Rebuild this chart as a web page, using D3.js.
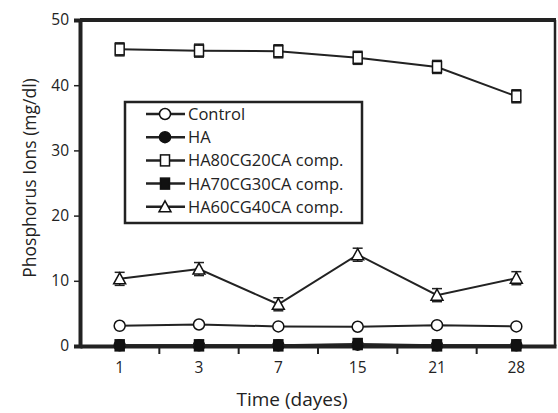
<!DOCTYPE html>
<html>
<head>
<meta charset="utf-8">
<script src="https://cdn.jsdelivr.net/npm/d3@7"></script>
<style>
  body { margin: 0; background: #fff; }
  svg text { font-family: "Open Sans", "Noto Sans", sans-serif; fill: #222; }
  .tick text { font-size: 15.5px; }
  .legend-text { font-size: 16.5px; }
</style>
</head>
<body>
<div id="chart"></div>
<script>
// days on the x axis
const days = ["1", "3", "7", "15", "21", "28"];
const yTicks = [0, 10, 20, 30, 40, 50];

// phosphorus ions (mg/dl) per group
const control = [3.1, 3.3, 3.0, 2.95, 3.2, 3.0];
const ha = [0.1, 0.1, 0.1, 0.2, 0.1, 0.1];
const ha80 = [45.5, 45.3, 45.2, 44.2, 42.8, 38.3];
const ha80Err = [1.0, 1.0, 1.0, 1.0, 1.0, 1.0];
const ha70 = [0.1, 0.1, 0.1, 0.3, 0.1, 0.1];
const ha60 = [10.3, 11.8, 6.4, 14.0, 7.8, 10.4];
const ha60Err = [1.0, 1.0, 1.0, 1.0, 1.0, 1.0];

const seriesNames = ["Control", "HA", "HA80CG20CA comp.", "HA70CG30CA comp.", "HA60CG40CA comp."];
const seriesValues = [control, ha, ha80, ha70, ha60];
const seriesErr = [null, null, ha80Err, null, ha60Err];
const seriesShape = ["circle", "circle", "square", "square", "triangle"];
const seriesFill = ["#fff", "#111", "#fff", "#111", "#fff"];

const width = 558, height = 413;
const margin = { top: 20, right: 2, bottom: 67, left: 80 };

const svg = d3.select("#chart").append("svg")
  .attr("width", width)
  .attr("height", height);

const x = d3.scaleBand()
  .domain(days)
  .range([margin.left, width - margin.right]);

const y = d3.scaleLinear()
  .domain([0, 50])
  .range([height - margin.bottom, margin.top]);

// top and right frame
svg.append("line")
  .attr("x1", margin.left).attr("x2", width - margin.right)
  .attr("y1", y(50)).attr("y2", y(50))
  .attr("stroke", "#222").attr("stroke-width", 4);
svg.append("line")
  .attr("x1", width - margin.right - 1).attr("x2", width - margin.right - 1)
  .attr("y1", y(50)).attr("y2", y(0))
  .attr("stroke", "#222").attr("stroke-width", 2.5);

// y axis
const yAxis = svg.append("g")
  .attr("transform", `translate(${margin.left},0)`)
  .call(d3.axisLeft(y).tickValues(yTicks).tickSize(6).tickPadding(5));
yAxis.select(".domain").attr("stroke", "#222").attr("stroke-width", 4);
yAxis.selectAll(".tick line").attr("stroke", "#222").attr("stroke-width", 1.5);

// x axis: ticks between the categories
const xAxis = svg.append("g")
  .attr("transform", `translate(0,${y(0)})`)
  .call(d3.axisBottom(x).tickSize(0).tickPadding(16));
xAxis.select(".domain").attr("stroke", "#222").attr("stroke-width", 4);
xAxis.selectAll(".sep")
  .data(days.slice(1))
  .enter()
  .append("line")
  .attr("class", "sep")
  .attr("x1", d => x(d)).attr("x2", d => x(d))
  .attr("y1", 0).attr("y2", 8)
  .attr("stroke", "#222").attr("stroke-width", 2);

// axis titles
svg.append("text")
  .attr("text-anchor", "middle")
  .style("font-size", "19px")
  .attr("x", 292)
  .attr("y", 406)
  .text("Time (dayes)");

svg.append("text")
  .attr("text-anchor", "middle")
  .style("font-size", "17.5px")
  .attr("transform", `translate(36,178) rotate(-90)`)
  .text("Phosphorus Ions  (mg/dl)");

function drawMarker(g, shape, fill) {
  if (shape === "circle") {
    g.append("circle").attr("r", 5.5);
  } else if (shape === "square") {
    g.append("rect").attr("x", -4.5).attr("y", -5.5).attr("width", 9).attr("height", 11);
  } else {
    g.append("path").attr("d", "M0,-6 L6,5 L-6,5 Z");
  }
  g.selectAll("*").attr("fill", fill).attr("stroke", "#111").attr("stroke-width", 1.5);
}

const line = d3.line()
  .x((d, i) => x(days[i]) + x.bandwidth() / 2)
  .y(d => y(d));

seriesValues.forEach((vals, s) => {
  const g = svg.append("g");
  g.append("path")
    .datum(vals)
    .attr("d", line)
    .attr("fill", "none")
    .attr("stroke", "#222")
    .attr("stroke-width", 2);

  if (seriesErr[s]) {
    const err = seriesErr[s];
    vals.forEach((v, i) => {
      const cx = x(days[i]) + x.bandwidth() / 2;
      const eg = g.append("g").attr("stroke", "#222").attr("stroke-width", 1.5);
      eg.append("line").attr("x1", cx).attr("x2", cx).attr("y1", y(v - err[i])).attr("y2", y(v + err[i]));
      eg.append("line").attr("x1", cx - 5).attr("x2", cx + 5).attr("y1", y(v - err[i])).attr("y2", y(v - err[i]));
      eg.append("line").attr("x1", cx - 5).attr("x2", cx + 5).attr("y1", y(v + err[i])).attr("y2", y(v + err[i]));
    });
  }

  vals.forEach((v, i) => {
    const m = g.append("g")
      .attr("transform", `translate(${x(days[i]) + x.bandwidth() / 2},${y(v)})`);
    drawMarker(m, seriesShape[s], seriesFill[s]);
  });
});

// legend
const legend = svg.append("g");
legend.append("rect")
  .attr("x", 125).attr("y", 102)
  .attr("width", 237).attr("height", 121)
  .attr("fill", "#fff")
  .attr("stroke", "#222")
  .attr("stroke-width", 2.5);

seriesNames.forEach((name, s) => {
  const ly = 114 + s * 23.2;
  const row = legend.append("g");
  row.append("line")
    .attr("x1", 146).attr("x2", 185)
    .attr("y1", ly).attr("y2", ly)
    .attr("stroke", "#222").attr("stroke-width", 2.5);
  const m = row.append("g").attr("transform", `translate(165,${ly})`);
  drawMarker(m, seriesShape[s], seriesFill[s]);
  row.append("text")
    .attr("class", "legend-text")
    .attr("x", 188)
    .attr("y", ly + 6)
    .text(name);
});
</script>
</body>
</html>
